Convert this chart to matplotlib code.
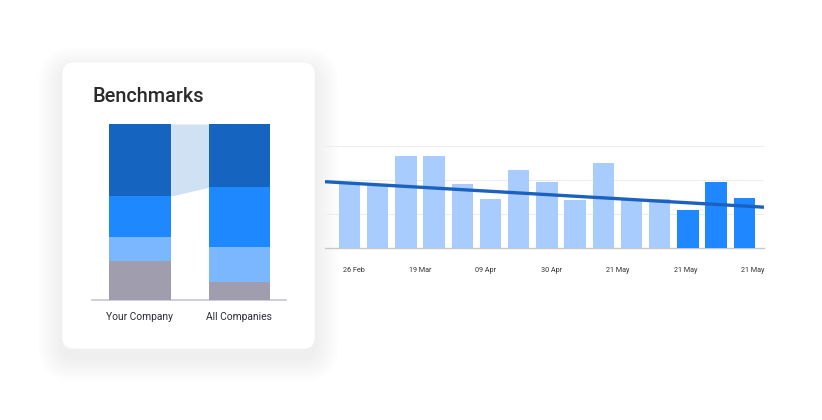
import matplotlib
matplotlib.use("Agg")
import matplotlib.pyplot as plt
from matplotlib.patches import FancyBboxPatch
import numpy as np

# ---------------- data ----------------
bench_categories = ["Your Company", "All Companies"]
bench_gray = [22, 10]
bench_light = [14, 20]
bench_medium = [23, 34]
bench_dark = [41, 36]

trend_values = [19.4, 18.5, 27.1, 27.1, 18.7, 14.5, 22.9, 19.4, 14.0, 25.1,
                14.5, 14.4, 11.2, 19.4, 14.7]
highlight_from = 12  # bars from this index on are highlighted
trend_line = [19.5, 12.0]  # start / end of the trend line
tick_labels = ["26 Feb", "19 Mar", "09 Apr", "30 Apr", "21 May", "21 May", "21 May"]
tick_positions = [0.16, 2.5, 4.84, 7.18, 9.52, 11.93, 14.3]

W, H = 822, 420
fig = plt.figure(figsize=(W / 100, H / 100), dpi=100)
fig.patch.set_facecolor("white")

def px_axes(x0, y0, x1, y1):
    # image pixel coords (top-left origin) -> figure fraction
    return fig.add_axes([x0 / W, 1 - y1 / H, (x1 - x0) / W, (y1 - y0) / H])

# ---------------- card background ----------------
bg = fig.add_axes([0, 0, 1, 1])
bg.set_xlim(0, W)
bg.set_ylim(H, 0)
bg.axis("off")
cx0, cy0, cx1, cy1 = 62, 62, 315, 349
for i in range(16, 0, -1):
    grow = i * 1.5
    sh = FancyBboxPatch((cx0 - grow, cy0 - grow + 9), (cx1 - cx0) + 2 * grow,
                        (cy1 - cy0) + 2 * grow,
                        boxstyle=f"round,pad=0,rounding_size={12 + grow}",
                        facecolor="#40406a", edgecolor="none", alpha=0.0035, zorder=1)
    bg.add_patch(sh)
card = FancyBboxPatch((cx0, cy0), cx1 - cx0, cy1 - cy0,
                      boxstyle="round,pad=0,rounding_size=12",
                      facecolor="white", edgecolor="#f2f2f6", linewidth=0.6, zorder=2)
bg.add_patch(card)
bg.text(92, 97, "Benchmarks", fontsize=14.3, family="Roboto", fontweight="medium",
        color="#2b2b2b", va="center", ha="left", zorder=3)

# ---------------- benchmark stacked bars ----------------
axb = px_axes(91.7, 124, 285.7, 300)
axb.set_facecolor("none")
x = np.arange(len(bench_categories))
bw = 0.618
c_gray, c_light, c_med, c_dark = "#a09dae", "#7bb7ff", "#1e88ff", "#1565c0"
g = np.array(bench_gray)
l = np.array(bench_light)
m = np.array(bench_medium)
d = np.array(bench_dark)
axb.bar(x, g, bw, color=c_gray, zorder=3)
axb.bar(x, l, bw, bottom=g, color=c_light, zorder=3)
axb.bar(x, m, bw, bottom=g + l, color=c_med, zorder=3)
axb.bar(x, d, bw, bottom=g + l + m, color=c_dark, zorder=3)
top = g + l + m + d
axb.fill_between([x[0] + bw / 2, x[1] - bw / 2], [top[0] - d[0], top[1] - d[1]],
                 [top[0], top[1]], color="#d0e1f4", linewidth=0, zorder=2)
axb.set_xlim(-0.486, 1.467)
axb.set_ylim(0, 100)
for s in ["top", "right", "left"]:
    axb.spines[s].set_visible(False)
axb.spines["bottom"].set_color("#c6c4da")
axb.spines["bottom"].set_linewidth(1.2)
axb.set_yticks([])
axb.set_xticks(x)
axb.set_xticklabels(bench_categories, fontsize=7.4, family="Roboto", color="#2a2a3a")
axb.tick_params(axis="x", length=0, pad=8.5)

# ---------------- trend bar chart ----------------
axt = px_axes(325, 146, 764, 248)
axt.set_facecolor("none")
idx = np.arange(len(trend_values))
colors = ["#a8ccfd" if i < highlight_from else "#1f87ff" for i in idx]
axt.bar(idx, trend_values, 0.76, color=colors, zorder=3)
xl = (-0.87, 14.70)
axt.plot(xl, trend_line, color="#1b62c0", linewidth=2.4, zorder=4,
         solid_capstyle="butt")
axt.set_xlim(*xl)
axt.set_ylim(0, 30)
axt.set_yticks([10, 20, 30])
axt.yaxis.grid(True, color="#ededed", linewidth=0.8, zorder=0)
axt.set_axisbelow(True)
axt.tick_params(axis="y", length=0, labelleft=False)
for s in ["top", "right", "left"]:
    axt.spines[s].set_visible(False)
axt.spines["bottom"].set_color("#c8c8c8")
axt.spines["bottom"].set_linewidth(1.0)
axt.set_xticks(tick_positions)
axt.set_xticklabels(tick_labels, fontsize=5.2, family="Roboto", color="#333333")
axt.tick_params(axis="x", length=0, pad=14)

fig.savefig("out.png", dpi=100, facecolor="white")
